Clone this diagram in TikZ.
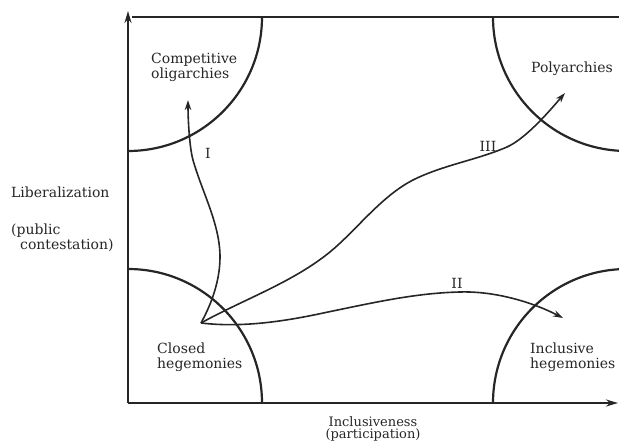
\documentclass[tikz,border=0pt]{standalone}
\usepackage{fontspec}
\setmainfont{DejaVu Serif}
\usetikzlibrary{arrows.meta}
\begin{document}
\begin{tikzpicture}[x=1pt,y=-1pt,
  frame/.style={line width=2.2pt,draw=black!85},
  bound/.style={line width=2.2pt,draw=black!85},
  path/.style={line width=1.6pt,draw=black!85,-{Stealth[length=10pt,width=6.5pt]}},
  lab/.style={inner sep=0pt,font=\fontsize{14}{15}\selectfont,text=black!85,align=left},
  num/.style={inner sep=0pt,font=\fontsize{14}{15}\selectfont,text=black!85}]
\useasboundingbox (0,0) rectangle (619,443);
% corners
\coordinate (tl) at (128,17);
\coordinate (bl) at (128,403);
\coordinate (tr) at (619,17);
\coordinate (br) at (618,403);
% axes and top line
\draw[frame,-{Stealth[length=12pt,width=7pt]}] (bl) -- (128,11);
\draw[frame,-{Stealth[length=12pt,width=7pt]}] (bl) -- (br);
\draw[frame] (132,17) -- (tr);
% region boundaries
\begin{scope}
\clip (128,17) rectangle (619,403);
\draw[bound] (128,17) circle[radius=134pt];
\draw[bound] (627,17) circle[radius=134pt];
\draw[bound] (128,403) circle[radius=134pt];
\draw[bound] (627,403) circle[radius=134pt];
\end{scope}
% labels
\node[lab,anchor=west] (co) at (151,67) {Competitive\\oligarchies};
\node[lab,anchor=base west] (po) at (531,73) {Polyarchies};
\node[lab,anchor=west] (ch) at (157,357) {Closed\\hegemonies};
\node[lab,anchor=west] (ih) at (530,357) {Inclusive\\hegemonies};
\node[lab,anchor=base west] (lib) at (11,198) {Liberalization};
\node[lab,anchor=west] (pc) at (11,238) {(public\\\hspace*{9pt}contestation)};
\node[lab,align=center,anchor=center,font=\fontsize{13}{12.5}\selectfont] (inc) at (373,429) {Inclusiveness\\(participation)};
% paths
\coordinate (s) at (201,323);
% path I
\coordinate (i1) at (220,257);
\coordinate (i2) at (193,160);
\coordinate (e1) at (188,100);
\draw[path] (s) .. controls (212,303) and (220,280) .. (i1)
  .. controls (220,224) and (202,192) .. (i2)
  .. controls (189.5,147.5) and (188,120) .. (e1);
% path III
\coordinate (t1) at (338,245);
\coordinate (t2) at (413,180);
\coordinate (t3) at (507,147);
\coordinate (e3) at (565,93);
\draw[path] (s) .. controls (246,298) and (300,280) .. (t1)
  .. controls (362,223) and (384,195) .. (t2)
  .. controls (443,165) and (477,160) .. (t3)
  .. controls (527,138) and (552,108) .. (e3);
% path II
\coordinate (u1) at (328,312);
\coordinate (u2) at (460,292);
\coordinate (e2) at (563,318);
\draw[path] (s) .. controls (243,328) and (287,321) .. (u1)
  .. controls (372,303) and (415,293) .. (u2)
  .. controls (495,291) and (532,302) .. (e2);
\node[num] (nI) at (208,153) {I};
\node[num] (nII) at (457,283) {II};
\node[num] (nIII) at (488,146) {III};
\end{tikzpicture}
\end{document}
